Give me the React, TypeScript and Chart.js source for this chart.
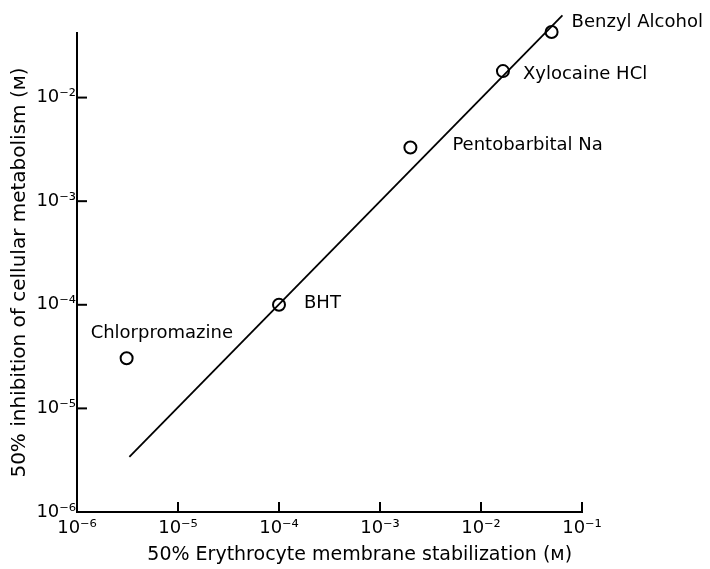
import React, { useEffect, useRef } from "react";
import { Chart, registerables } from "chart.js";

Chart.register(...registerables);

// ---- data ----
const compounds = ["Chlorpromazine", "BHT", "Pentobarbital Na", "Xylocaine HCl", "Benzyl Alcohol"];
const erythrocyteStabilization = [3.1e-6, 1.0e-4, 2.0e-3, 1.65e-2, 5.0e-2];
const cellularInhibition = [3.05e-5, 1.0e-4, 3.3e-3, 1.8e-2, 4.3e-2];
const fitLineX = [3.3e-6, 6.4e-2];
const fitLineY = [3.4e-6, 6.2e-2];
const xTickValues = [1e-6, 1e-5, 1e-4, 1e-3, 1e-2, 1e-1];
const xTickLabels = ["10⁻⁶", "10⁻⁵", "10⁻⁴", "10⁻³", "10⁻²", "10⁻¹"];
const yTickValues = [1e-6, 1e-5, 1e-4, 1e-3, 1e-2];
const yTickLabels = ["10⁻⁶", "10⁻⁵", "10⁻⁴", "10⁻³", "10⁻²"];
const xAxisTitle = "50% Erythrocyte membrane stabilization (ᴍ)";
const yAxisTitle = "50% inhibition of cellular metabolism (ᴍ)";

// label offsets (style), relative to each point, in px
const labelOffsets: [number, number][] = [
  [-36, -25],
  [25, -1],
  [42, -2],
  [20, 3],
  [20, -10],
];

const FONT = "'DejaVu Sans', sans-serif";

const inwardTicks = {
  id: "inwardTicks",
  afterDatasetsDraw(chart: any) {
    const { ctx, chartArea, scales } = chart;
    ctx.save();
    ctx.strokeStyle = "#000";
    ctx.lineWidth = 2;
    const len = 10;
    for (const v of xTickValues) {
      const x = scales.x.getPixelForValue(v);
      ctx.beginPath();
      ctx.moveTo(x, chartArea.bottom);
      ctx.lineTo(x, chartArea.bottom - len);
      ctx.stroke();
    }
    for (const v of yTickValues) {
      const y = scales.y.getPixelForValue(v);
      ctx.beginPath();
      ctx.moveTo(chartArea.left, y);
      ctx.lineTo(chartArea.left + len, y);
      ctx.stroke();
    }
    // point labels
    const meta = chart.getDatasetMeta(1);
    ctx.fillStyle = "#000";
    ctx.font = `18px ${FONT}`;
    ctx.textAlign = "left";
    ctx.textBaseline = "middle";
    meta.data.forEach((el: any, i: number) => {
      const [dx, dy] = labelOffsets[i];
      ctx.fillText(compounds[i], el.x + dx, el.y + dy);
    });
    ctx.restore();
  },
};

export default function App() {
  const ref = useRef<HTMLCanvasElement>(null);
  useEffect(() => {
    if (!ref.current) return;
    const chart = new Chart(ref.current, {
      type: "scatter",
      data: {
        datasets: [
          {
            type: "line",
            data: fitLineX.map((x, i) => ({ x, y: fitLineY[i] })),
            borderColor: "#000",
            borderWidth: 1.8,
            pointRadius: 0,
            fill: false,
            clip: false as any,
          },
          {
            type: "scatter",
            data: erythrocyteStabilization.map((x, i) => ({ x, y: cellularInhibition[i] })),
            pointStyle: "circle",
            pointRadius: 6,
            pointBorderWidth: 2,
            borderColor: "#000",
            backgroundColor: "#fff",
            pointBackgroundColor: "#fff",
            pointBorderColor: "#000",
            clip: false as any,
          },
        ],
      },
      options: {
        animation: false,
        responsive: true,
        maintainAspectRatio: false,
        layout: { padding: { top: 33, right: 128, left: 0, bottom: 0 } },
        plugins: { legend: { display: false }, tooltip: { enabled: false } },
        scales: {
          x: {
            type: "logarithmic",
            min: 1e-6,
            max: 1e-1,
            grid: { display: false, drawTicks: false },
            border: { display: true, color: "#000", width: 2 },
            afterBuildTicks: (s: any) => {
              s.ticks = xTickValues.map((v) => ({ value: v }));
            },
            afterFit: (s: any) => {
              s.height = 57;
              s.paddingLeft = 0;
              s.paddingRight = 0;
            },
            ticks: {
              autoSkip: false,
              maxRotation: 0,
              padding: 6,
              color: "#000",
              font: { family: FONT, size: 18 },
              callback: (v: any) => {
                const i = xTickValues.findIndex((t) => Math.abs(Math.log10(t) - Math.log10(v)) < 1e-6);
                return i >= 0 ? xTickLabels[i] : "";
              },
            },
            title: {
              display: true,
              text: "          " + xAxisTitle,
              color: "#000",
              font: { family: FONT, size: 19 },
              padding: { top: 0, bottom: 3 },
            },
          },
          y: {
            type: "logarithmic",
            min: 1e-6,
            max: 0.042,
            grid: { display: false, drawTicks: false },
            border: { display: true, color: "#000", width: 2 },
            afterBuildTicks: (s: any) => {
              s.ticks = yTickValues.map((v) => ({ value: v }));
            },
            afterFit: (s: any) => {
              s.width = 77;
              s.paddingTop = 0;
              s.paddingBottom = 0;
            },
            ticks: {
              autoSkip: false,
              padding: 1,
              color: "#000",
              font: { family: FONT, size: 18 },
              callback: (v: any) => {
                const i = yTickValues.findIndex((t) => Math.abs(Math.log10(t) - Math.log10(v)) < 1e-6);
                return i >= 0 ? yTickLabels[i] : "";
              },
            },
            title: {
              display: true,
              text: yAxisTitle,
              color: "#000",
              font: { family: FONT, size: 20 },
              padding: { top: 8, bottom: 0 },
            },
          },
        },
      },
      plugins: [inwardTicks],
    });
    return () => chart.destroy();
  }, []);
  return (
    <div style={{ position: "fixed", left: 0, top: 0, width: 710, height: 569, background: "#fff" }}>
      <canvas ref={ref} />
    </div>
  );
}
